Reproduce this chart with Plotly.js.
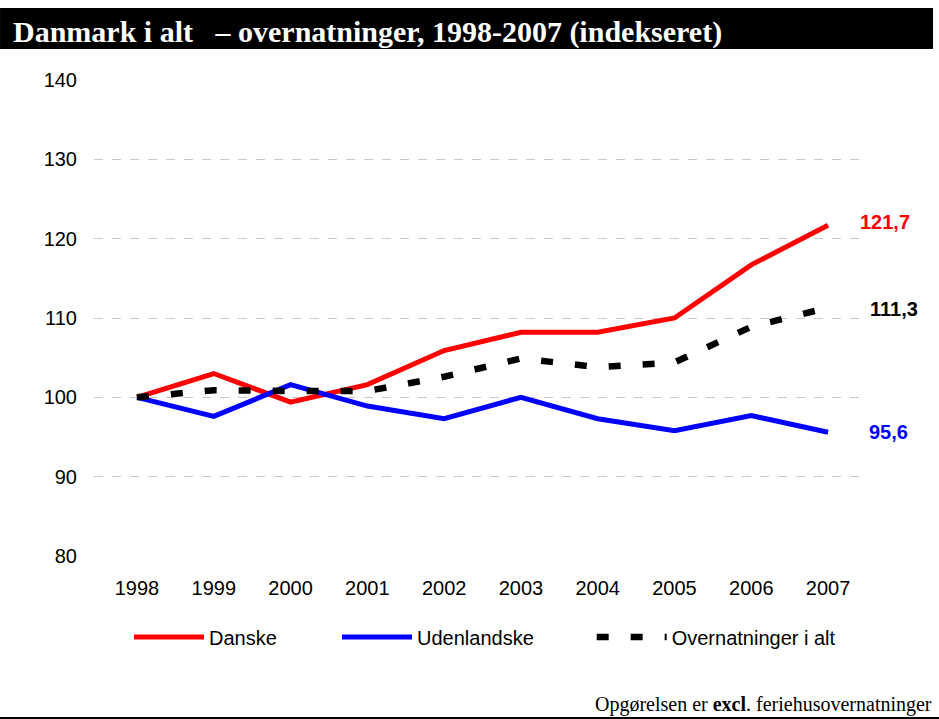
<!DOCTYPE html>
<html>
<head>
<meta charset="utf-8">
<script src="https://cdn.plot.ly/plotly-3.0.1.min.js"></script>
<style>html,body{margin:0;padding:0;background:#fff;}#chart{width:939px;height:719px;}</style>
</head>
<body>
<div id="chart"></div>
<script>
const years = [1998, 1999, 2000, 2001, 2002, 2003, 2004, 2005, 2006, 2007];
const danske = [100, 103.0, 99.4, 101.6, 105.9, 108.2, 108.2, 110.0, 116.7, 121.7];
const udenlandske = [100, 97.6, 101.6, 98.9, 97.3, 100.0, 97.3, 95.8, 97.7, 95.6];
const total = [100, 100.9, 100.8, 100.8, 102.6, 104.9, 103.8, 104.4, 108.9, 111.3];
const seriesNames = ['Danske', 'Udenlandske', 'Overnatninger i alt'];
const endLabels = ['121,7', '111,3', '95,6'];
const yTicks = [80, 90, 100, 110, 120, 130, 140];
const gridTicks = [90, 100, 110, 120, 130];

const traces = [
  {x: [years[0]], y: [gridTicks[0]], yaxis: 'y2', type: 'scatter', mode: 'markers',
   marker: {opacity: 0}, showlegend: false, hoverinfo: 'skip'},
  {x: years, y: danske, name: seriesNames[0], type: 'scatter', mode: 'lines', legend: 'legend',
   line: {color: '#ff0000', width: 5}},
  {x: years, y: udenlandske, name: seriesNames[1], type: 'scatter', mode: 'lines', legend: 'legend2',
   line: {color: '#0000ff', width: 5}},
  {x: years, y: total, name: seriesNames[2], type: 'scatter', mode: 'lines', legend: 'legend3',
   line: {color: '#000000', width: 6.5, dash: '12px,22px'}}
];

const lastI = years.length - 1;
const annColors = ['#ff0000', '#000000', '#0000ff'];
const annVals = [danske[lastI], total[lastI], udenlandske[lastI]];
const annShift = [30, 40, 39];
const annY = [3, -1, 0];
const annotations = endLabels.map((t, i) => ({
  x: years[lastI], y: annVals[i], xref: 'x', yref: 'y', text: '<b>' + t + '</b>',
  showarrow: false, xanchor: 'left', yanchor: 'middle', xshift: annShift[i], yshift: annY[i],
  font: {family: 'Liberation Sans, Arial, sans-serif', size: 20, color: annColors[i]}
}));
annotations.push({
  xref: 'paper', yref: 'paper', x: 1.0852, y: -0.311, xanchor: 'right', yanchor: 'middle',
  text: 'Opgørelsen er <b>excl</b>. feriehusovernatninger', showarrow: false,
  font: {family: 'Liberation Serif, Times New Roman, serif', size: 20, color: '#000'}
});

const legendFont = {family: 'Liberation Sans, Arial, sans-serif', size: 20, color: '#000'};
function mkLegend(x) {
  return {orientation: 'h', x: x, xanchor: 'left', y: -0.17, yanchor: 'middle',
          itemwidth: 70, font: legendFont, bgcolor: 'rgba(0,0,0,0)'};
}

const layout = {
  width: 939, height: 719,
  margin: {l: 94, r: 71, t: 80, b: 163},
  paper_bgcolor: '#ffffff', plot_bgcolor: '#ffffff',
  title: {
    text: '<b>Danmark i alt   – overnatninger, 1998-2007 (indekseret)</b>',
    x: 13 / 939, xanchor: 'left', xref: 'container',
    y: 1 - 31 / 719, yanchor: 'middle', yref: 'container',
    font: {family: 'Liberation Serif, Times New Roman, serif', size: 30, color: '#ffffff'}
  },
  xaxis: {
    range: [1997.44, 2007.52], tickmode: 'array', tickvals: years, ticktext: years.map(String),
    showgrid: false, zeroline: false, showline: false, ticks: '',
    ticklabelstandoff: 18,
    tickfont: {family: 'Liberation Sans, Arial, sans-serif', size: 20, color: '#000'}
  },
  yaxis: {
    range: [80, 140], tickmode: 'array', tickvals: yTicks,
    showgrid: false, zeroline: false, showline: false, ticks: '',
    ticklabelstandoff: 16,
    tickfont: {family: 'Liberation Sans, Arial, sans-serif', size: 20, color: '#000'}
  },
  yaxis2: {
    range: [80, 140], overlaying: 'y', tickmode: 'array', tickvals: gridTicks,
    showgrid: true, gridcolor: '#c8c8c8', griddash: '9px,9px', gridwidth: 1,
    showticklabels: false, zeroline: false, showline: false, ticks: ''
  },
  showlegend: true,
  legend: mkLegend(0.0452),
  legend2: mkLegend(0.314),
  legend3: mkLegend(0.643),
  shapes: [
    {type: 'rect', xref: 'paper', yref: 'paper', x0: -0.1214, x1: 1.084, y0: 1.0651, y1: 1.1513,
     fillcolor: '#000000', line: {width: 0}, layer: 'below'},
    {type: 'line', xref: 'paper', yref: 'paper', x0: -0.1214, x1: 1.0917, y0: -0.3414, y1: -0.3414,
     line: {color: '#000000', width: 3}}
  ],
  annotations: annotations
};

Plotly.newPlot('chart', traces, layout, {displayModeBar: false, staticPlot: true});
</script>
</body>
</html>
